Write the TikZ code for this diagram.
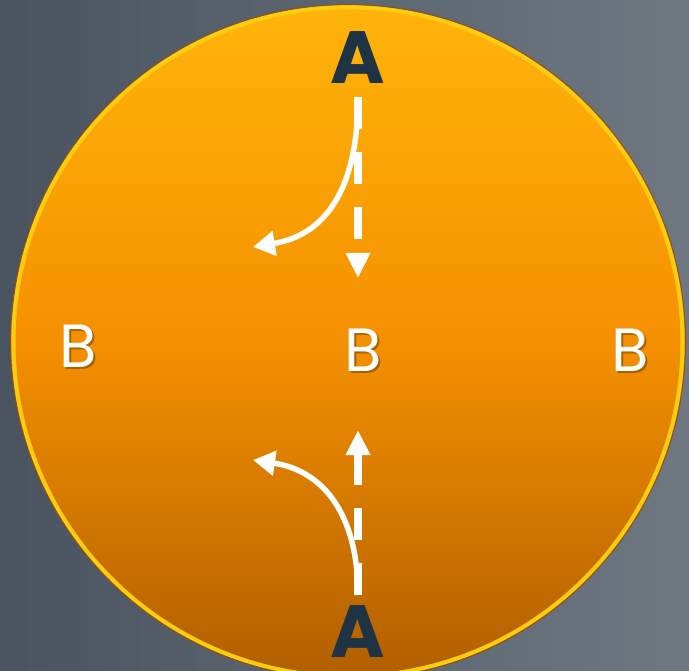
\documentclass[tikz,border=0pt]{standalone}
\usepackage{fontspec}
\setmainfont{Poppins}
\usetikzlibrary{arrows.meta}
\definecolor{bgL}{HTML}{4A5460}
\definecolor{bgR}{HTML}{6F7881}
\definecolor{orTop}{HTML}{FFB40A}
\definecolor{orMid}{HTML}{F59000}
\definecolor{orBot}{HTML}{B05E00}
\definecolor{rim}{HTML}{FFCC10}
\definecolor{rimdark}{HTML}{8A5418}
\definecolor{navy}{HTML}{1E3444}
\tikzset{
  lettA/.style={text=navy, font=\fontsize{74}{74}\selectfont\bfseries, inner sep=0pt},
  lettB/.style={text=white, font=\fontsize{61}{61}\selectfont, inner sep=0pt},
  shadowB/.style={text=black, text opacity=0.3, font=\fontsize{61}{61}\selectfont, inner sep=0pt},
  curvearrow/.style={draw=white, line width=5.5pt, -{Triangle[width=24pt,length=22pt]}},
  dasharrow/.style={draw=white, line width=7.5pt, dash pattern=on 32pt off 23pt, -{Triangle[width=23pt,length=25pt]}}
}
\begin{document}
\begin{tikzpicture}[x=1pt,y=-1pt]
\shade[left color=bgL, right color=bgR] (0,0) rectangle (689,671);
\useasboundingbox (0,0) rectangle (689,671);
% disc
\shade[top color=orTop, bottom color=orBot, middle color=orMid] (348,342) circle (337);
\draw[rim, line width=4pt] (348,342) circle (334.5);
\draw[rimdark, line width=0.8pt] (348,342) circle (337.5);
% letters
\node[lettA] (At) at (358,58) {A};
\node[lettA] (Ab) at (358,632) {A};
\node[shadowB] at (80,348) {B};
\node[shadowB] at (365,352) {B};
\node[shadowB] at (632,352) {B};
\node[lettB] (Bl) at (78,346) {B};
\node[lettB] (Bc) at (363,350) {B};
\node[lettB] (Br) at (630,350) {B};
% connector end points
\coordinate (ts) at (358,97);
\coordinate (tl) at (253,247);
\coordinate (td) at (358,278);
\coordinate (bs) at (358,595);
\coordinate (bl) at (253,460);
\coordinate (bd) at (358,430);
% arrows
\draw[curvearrow] (ts) .. controls (358,190) and (325,235) .. (tl);
\draw[dasharrow] (ts) -- (td);
\draw[curvearrow] (bs) .. controls (358,510) and (320,470) .. (bl);
\draw[dasharrow] (bs) -- (bd);
\end{tikzpicture}
\end{document}
